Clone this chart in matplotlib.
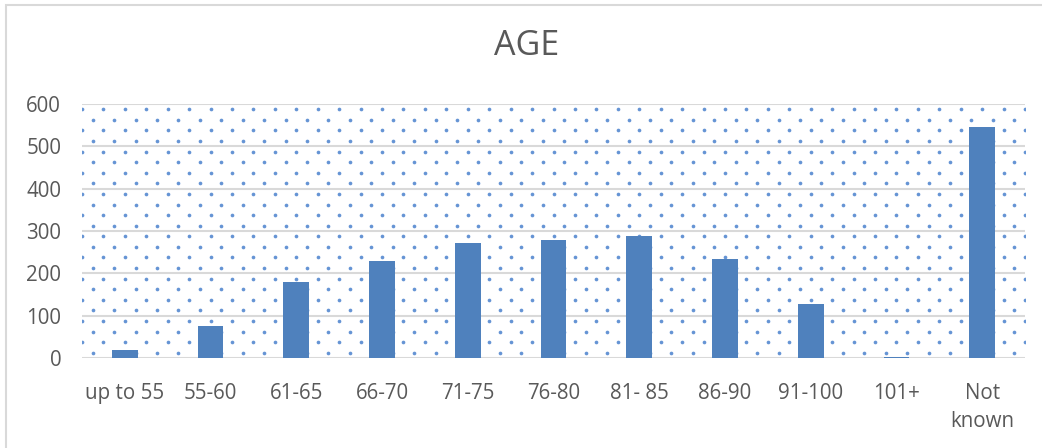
import matplotlib
matplotlib.use('Agg')
import matplotlib.pyplot as plt
from matplotlib.patches import Rectangle
import numpy as np

categories = ['up to 55', '55-60', '61-65', '66-70', '71-75', '76-80',
              '81- 85', '86-90', '91-100', '101+', 'Not\nknown']
counts = [20, 75, 180, 230, 272, 279, 289, 234, 128, 2, 546]
yticks = [0, 100, 200, 300, 400, 500, 600]

plt.rcParams['font.family'] = ['Open Sans', 'DejaVu Sans']
text_col = '#595959'
grid_col = '#d9d9d9'
bar_col = '#4f81bd'

fig = plt.figure(figsize=(10.42, 4.48), dpi=100)
# chart frame
fig.patches.append(Rectangle((6 / 1042, -0.1), 1.2, 1 - 5 / 448 + 0.1,
                             transform=fig.transFigure, fill=False,
                             edgecolor='#d9d9d9', linewidth=1.5))

ax = fig.add_axes([82 / 1042, 1 - 358 / 448, 943 / 1042, 254 / 448])
x = np.arange(len(categories))

# dotted background fill (staggered pattern)
ymax = 600
rows = np.arange(12.5, ymax, 25)
for i, yy in enumerate(rows[::-1]):
    off = 0.0 if i % 2 == 0 else 0.125
    xs = np.arange(-0.5 + off, len(categories) - 0.5 + 0.01, 0.25)
    ax.scatter(xs, np.full_like(xs, yy), s=7, color='#6594d4', linewidths=0,
               zorder=1, clip_on=True)

for t in yticks:
    ax.axhline(t, color=grid_col, linewidth=1.5, zorder=2)

ax.bar(x, counts, width=0.3, color=bar_col, zorder=3)

ax.set_xlim(-0.5, len(categories) - 0.5)
ax.set_ylim(0, ymax)
ax.set_yticks(yticks)
ax.set_xticks(x)
ax.set_xticklabels(categories, va='top', linespacing=1.45)
ax.tick_params(axis='both', length=0, colors=text_col, labelsize=14.8)
ax.tick_params(axis='y', pad=15)
ax.tick_params(axis='x', pad=18)
for s in ax.spines.values():
    s.set_visible(False)

fig.text(527 / 1042, 1 - 46 / 448, 'AGE', ha='center', va='center',
         fontsize=24.5, color=text_col)

plt.savefig('out.png', dpi=100)
plt.close()
